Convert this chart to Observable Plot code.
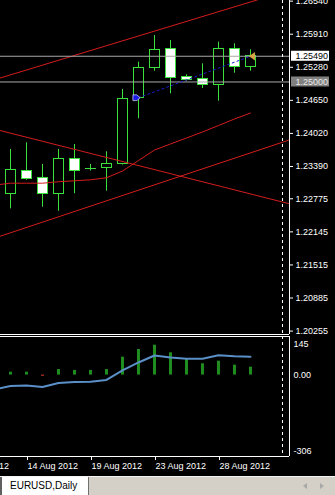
<!DOCTYPE html>
<html>
<head>
<meta charset="utf-8">
<script src="https://cdn.jsdelivr.net/npm/d3@7"></script>
<script src="https://cdn.jsdelivr.net/npm/@observablehq/plot@0.6"></script>
<style>
html,body{margin:0;padding:0;background:#000;overflow:hidden;}
#wrap{width:335px;height:495px;position:relative;background:#000;overflow:hidden;}
#wrap svg{display:block;}
#tabs{position:absolute;left:0;top:476px;width:335px;height:19px;background:#d4d0c8;border-top:1px solid #f4f4f4;box-sizing:border-box;}
#tab{position:absolute;left:0;top:0;width:89px;height:18px;background:#fff;border-left:2px solid #606060;border-right:1px solid #707070;box-sizing:border-box;font:10px "Liberation Sans",Arial,sans-serif;color:#000;line-height:18px;padding-left:8px;white-space:nowrap;}
.al,.ar{position:absolute;top:6px;width:0;height:0;border-top:3px solid transparent;border-bottom:3px solid transparent;}
.al{left:303px;border-right:4px solid #a8a8a8;}
.ar{left:320px;border-left:4px solid #a8a8a8;}
</style>
</head>
<body>
<div id="wrap"></div>
<script>
// ---------- data ----------
const barIndex = [0,1,2,3,4,5,6,7,8,9,10,11,12,13,14,15];
const barDates = ["13 Aug 2012","14 Aug 2012","15 Aug 2012","16 Aug 2012","17 Aug 2012","19 Aug 2012","20 Aug 2012","21 Aug 2012","22 Aug 2012","23 Aug 2012","24 Aug 2012","26 Aug 2012","27 Aug 2012","28 Aug 2012","29 Aug 2012","30 Aug 2012"];
const opens  = [1.22857,1.23308,1.23175,1.22857,1.23537,1.23350,1.23365,1.23441,1.24699,1.25270,1.25624,1.25099,1.25060,1.24933,1.25632,1.25281];
const highs  = [1.23714,1.23841,1.23428,1.23714,1.23809,1.23428,1.23670,1.24857,1.25377,1.25885,1.25790,1.25137,1.25346,1.25758,1.25727,1.25613];
const lows   = [1.22584,1.23130,1.22615,1.22539,1.22870,1.23304,1.22920,1.23418,1.24299,1.25205,1.24775,1.25015,1.24876,1.24634,1.25167,1.25205];
const closes = [1.23314,1.23156,1.22857,1.23537,1.23295,1.23345,1.23441,1.24680,1.25270,1.25613,1.25080,1.25047,1.24933,1.25632,1.25281,1.25490];

const maBars   = [-1,0,1,2,3,4,5,6,7,8,9,10,11,12,13,14,15];
const maValues = [1.23035,1.23072,1.23072,1.23072,1.23100,1.23118,1.23137,1.23175,1.23304,1.23504,1.23704,1.23819,1.23933,1.24047,1.24171,1.24295,1.24409];

const trendIds        = ["upper","lower","falling"];
const trendStartBar   = [-1,-1,-1];
const trendStartPrice = [1.25043,1.22026,1.24102];
const trendEndBar     = [18,18,18];
const trendEndPrice   = [1.26802,1.23954,1.22636];

const hlinePrices = [1.25490,1.25000];
const tradeBars   = [8,15];
const tradePrices = [1.24700,1.25490];
const shiftBar = 17;

const priceTicks = [1.26540,1.25910,1.25280,1.24650,1.24020,1.23390,1.22775,1.22145,1.21515,1.20885,1.20255];
const bidPrice = 1.25490;
const levelPrice = 1.25000;

const histValues = [10.9,10.9,-4.5,21,17.3,17.3,21,67.3,96.2,112.4,83.8,61.3,42.5,52.3,37.2,29.7];
const sigBars    = [-1,0,1,2,3,4,5,6,7,8,9,10,11,12,13,14,15];
const sigValues  = [-54.1,-41,-39.1,-44.7,-29.7,-25.9,-24.8,-18.4,17.3,47.4,73.7,66.1,61.6,61.6,74.4,70.7,69.2];
const indMax = 145, indMin = -306;

const dateTickBars   = [-3,1,5,9,13];
const dateTickLabels = ["9 Aug 2012","14 Aug 2012","19 Aug 2012","23 Aug 2012","28 Aug 2012"];

// ---------- derived tables ----------
const candles = barIndex.map((k,i)=>({k, o:opens[i], h:highs[i], l:lows[i], c:closes[i]}));
const bulls = candles.filter(d=>d.c>=d.o);
const bears = candles.filter(d=>d.c<d.o);
const maPts = maBars.map((k,i)=>({k, v:maValues[i]}));
const trendPts = trendIds.flatMap((id,i)=>[{id,k:trendStartBar[i],v:trendStartPrice[i]},{id,k:trendEndBar[i],v:trendEndPrice[i]}]);
const tradePts = tradeBars.map((k,i)=>({k, v:tradePrices[i]}));
const histPts = barIndex.map((k,i)=>({k, v:histValues[i]}));
const sigPts = sigBars.map((k,i)=>({k, v:sigValues[i]}));

// ---------- style ----------
const GREEN = "#3ce03c", RED = "#d41c1c", BLUE = "#5a8fc8", HIST = "#1e8c1e";
const FONT = "'Liberation Sans', Arial, sans-serif";
const xDomain = [-0.625, 17.4375];
const yDomain = [1.20190, 1.26552];
const bodyHalf = 5/16;

const arrowRight = {draw(ctx, size){const r=Math.sqrt(size/Math.PI);
  ctx.moveTo(-r,-r*0.8);ctx.lineTo(r*0.1,-r*0.8);ctx.lineTo(r,0);ctx.lineTo(r*0.1,r*0.8);ctx.lineTo(-r,r*0.8);ctx.closePath();}};
const triLeft = {draw(ctx, size){const r=Math.sqrt(size/Math.PI);
  ctx.moveTo(-r*0.7,0);ctx.lineTo(r*0.7,-r);ctx.lineTo(r*0.7,r);ctx.closePath();}};

function tag(price, bg, fg){
  const dx = 6;
  return Plot.text([price], {
    y: d=>d, text: d=>d.toFixed(5), frameAnchor: "right", textAnchor: "start",
    dx, fill: fg, fontSize: 9,
    render(index, scales, values, dims, context, next){
      const g = next(index, scales, values, dims, context);
      const x0 = dims.width - dims.marginRight + 2 - dx - 0.5;
      for (const i of index){
        const r = document.createElementNS("http://www.w3.org/2000/svg","rect");
        r.setAttribute("x", x0); r.setAttribute("y", values.y[i]-5.5);
        r.setAttribute("width", 38); r.setAttribute("height", 10);
        r.setAttribute("fill", bg);
        g.insertBefore(r, g.firstChild);
      }
      return g;
    }
  });
}

const main = Plot.plot({
  width: 335, height: 335,
  marginLeft: 0, marginRight: 46, marginTop: 0, marginBottom: 1,
  style: {background:"#000", color:"#fff", fontFamily: FONT, fontSize:"9px"},
  x: {domain: xDomain, axis: null},
  y: {domain: yDomain, axis: null},
  marks: [
    Plot.ruleX(candles, {x:"k", y1:"l", y2:"h", stroke: GREEN}),
    Plot.rect(bulls, {x1:d=>d.k-bodyHalf, x2:d=>d.k+bodyHalf, y1:"o", y2:"c", fill:"#000", stroke:GREEN, shapeRendering:"crispEdges"}),
    Plot.rect(bears, {x1:d=>d.k-bodyHalf, x2:d=>d.k+bodyHalf, y1:"o", y2:"c", fill:"#fff", stroke:GREEN, shapeRendering:"crispEdges"}),
    Plot.line(maPts, {x:"k", y:"v", stroke:RED, strokeWidth:1, clip:true}),
    Plot.line(trendPts, {x:"k", y:"v", z:"id", stroke:RED, strokeWidth:1, clip:true}),
    Plot.ruleY(hlinePrices, {stroke:"#a8a8a8"}),
    Plot.line(tradePts, {x:"k", y:"v", stroke:"#1c1cd0", strokeWidth:1, strokeDasharray:"2,3"}),
    Plot.dot(tradePts.slice(0,1), {x:"k", y:"v", symbol: arrowRight, r:3.6, fill:"#1a1ae6", stroke:"#e0e0ff", strokeWidth:0.7, dx:-2}),
    Plot.dot(tradePts.slice(1), {x:"k", y:"v", symbol: triLeft, r:4.2, fill:"#d8a444", dx:1.5}),
    Plot.ruleX([shiftBar], {stroke:"#fff", strokeDasharray:"3,3"}),
    Plot.ruleY([yDomain[0]], {stroke:"#fff"}),
    Plot.ruleX([xDomain[1]], {stroke:"#fff"}),
    Plot.axisY(priceTicks, {anchor:"right", tickSize:3, tickPadding:3, tickFormat:d=>d.toFixed(5), fontSize:9, label:null}),
    tag(bidPrice, "#ffffff", "#000000"),
    tag(levelPrice, "#808080", "#e8e8e8")
  ]
});

const ind = Plot.plot({
  width: 335, height: 141,
  marginLeft: 0, marginRight: 46, marginTop: 1, marginBottom: 20,
  style: {background:"#000", color:"#fff", fontFamily: FONT, fontSize:"9px"},
  x: {domain: xDomain},
  y: {domain: [indMin, indMax], axis: null},
  marks: [
    Plot.ruleX(histPts.filter(d=>d.v>=0), {x:"k", y1:0, y2:"v", stroke:HIST, strokeWidth:3}),
    Plot.ruleX(histPts.filter(d=>d.v<0), {x:"k", y1:0, y2:"v", stroke:"#c03030", strokeWidth:3}),
    Plot.line(sigPts, {x:"k", y:"v", stroke:BLUE, strokeWidth:2, clip:true}),
    Plot.ruleX([shiftBar], {stroke:"#fff", strokeDasharray:"3,3"}),
    Plot.ruleY([indMax, indMin], {stroke:"#fff"}),
    Plot.ruleX([xDomain[1]], {stroke:"#fff"}),
    Plot.text([indMax], {y:d=>d, text:d=>String(d), frameAnchor:"right", textAnchor:"start", dx:4, dy:7.5, fontSize:9, fill:"#fff"}),
    Plot.text([0], {y:d=>d, text:d=>d.toFixed(2), frameAnchor:"right", textAnchor:"start", dx:4, fontSize:9, fill:"#fff"}),
    Plot.text([indMin], {y:d=>d, text:d=>String(d), frameAnchor:"right", textAnchor:"start", dx:4, dy:-5.5, fontSize:9, fill:"#fff"}),
    Plot.axisX(dateTickBars, {anchor:"bottom", tickSize:4, tickPadding:2, textAnchor:"start", dx:1, fontSize:9, label:null,
      tickFormat: d => dateTickLabels[dateTickBars.indexOf(d)]})
  ]
});

const wrap = document.getElementById("wrap");
wrap.appendChild(main);
wrap.appendChild(ind);
const tabs = document.createElement("div");
tabs.id = "tabs";
tabs.innerHTML = '<div id="tab">EURUSD,Daily</div><span class="al"></span><span class="ar"></span>';
wrap.appendChild(tabs);
</script>
</body>
</html>
